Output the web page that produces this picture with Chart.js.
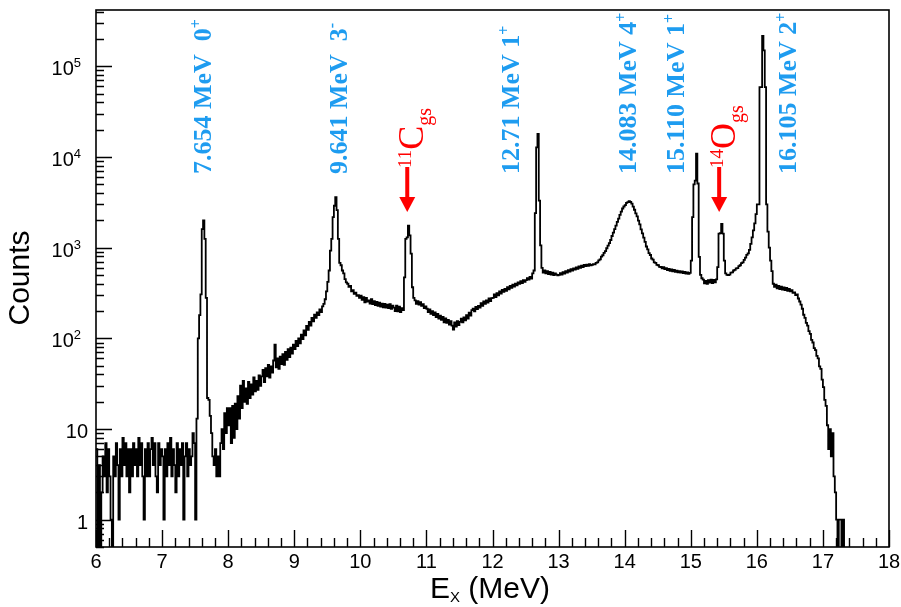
<!DOCTYPE html>
<html>
<head>
<meta charset="utf-8">
<title>Ex spectrum</title>
<script src="https://cdn.jsdelivr.net/npm/chart.js@4.4.1/dist/chart.umd.min.js"></script>
<style>
  html, body { margin: 0; padding: 0; background: #fff; }
  #wrap { width: 901px; height: 607px; }
</style>
</head>
<body>
<div id="wrap"><canvas id="spectrum" width="901" height="607"></canvas></div>
<script>
/* ================= DATA ================= */

// histogram: bin low edges start at binStart, width binWidth (MeV)
const binStart = 6.0;
const binWidth = 0.02;

// counts per bin, 25 bins (0.5 MeV) per line
const counts = [
  6,0,4,0,2,5,3,7,2,6,3,1,0,5,3,7,4,1,6,3,8,4,7,3,6,                                   // 6.00
  2,6,3,7,4,6,3,8,4,7,3,1,6,3,7,3,6,8,4,7,3,2,7,4,6,                                   // 6.50
  5,1,6,3,7,4,8,3,6,4,2,7,3,6,4,7,1,5,7,3,6,4,5,9,7,                                   // 7.00
  1,13,100,180,305,1600,2000,1250,280,22,21,14,9,5,4,6,3,5,3,7,10,6,15,9,17,           // 7.50
  11,17,7,18,8,19,10,23,13,30,17,34,20,28,19,33,22,31,24,37,26,34,27,39,30,            // 8.00
  38,45,33,47,38,51,37,49,42,57,85,48,60,46,63,52,67,51,71,58,76,62,79,68,85,          // 8.50
  76,94,82,100,88,110,98,122,108,137,124,152,138,168,154,182,168,193,180,208,195,225,240,270,330, // 9.00
  420,560,930,1250,2170,2900,3600,2600,1250,680,640,560,520,450,415,400,370,380,330,340,310,320,295,300,280, // 9.50
  295,265,285,250,280,255,262,242,270,238,258,232,252,228,248,224,242,220,240,218,236,215,238,212,230, // 10.00
  218,200,230,198,224,195,215,205,470,1250,1300,1750,1370,860,366,280,262,240,258,235,250,228,238,215,225, // 10.50
  212,195,208,186,200,180,193,172,186,165,178,160,172,150,166,148,160,142,155,138,125,150,135,155,140, // 11.00
  152,165,150,170,158,180,165,192,178,205,212,198,222,210,228,218,245,228,255,240,262,248,275,258,278, // 11.50
  280,305,285,315,298,330,312,342,325,352,335,368,348,378,360,392,372,402,385,415,398,428,408,438,420, // 12.00
  438,462,445,475,455,520,560,2400,12800,18000,3300,1060,600,530,560,520,550,512,540,505,530,498,522,505,495, // 12.50
  500,525,505,538,518,550,530,565,545,580,560,592,572,605,585,620,598,632,610,645,625,650,630,658,638, // 13.00
  645,660,655,680,688,725,742,795,825,875,915,985,1055,1125,1215,1345,1465,1605,1755,1925,2095,2305,2495,2705,2845, // 13.50
  2950,3120,3180,3260,3190,3060,2840,2620,2390,2210,1990,1810,1590,1440,1290,1160,1030,960,870,830,760,740,690,680,645, // 14.00
  640,615,612,592,608,580,596,565,584,556,576,548,568,540,558,534,552,530,548,524,542,518,535,515,528, // 14.50
  720,2170,5000,5500,10900,5100,790,500,460,445,405,430,400,438,412,445,408,440,415,448,610,1430,1450,1830,1430, // 15.00
  720,520,500,498,505,530,535,560,570,590,595,625,640,675,690,735,775,835,865,945,1100,1300,1550,1850,2350, // 15.50
  3000,3000,59000,59000,216000,150000,59000,3000,1500,1000,720,550,400,370,390,355,380,350,372,345,365,340,360,335,350, // 16.00
  330,340,318,322,300,305,275,255,235,212,182,168,148,138,120,112,96,90,78,74,64,60,49,46,35, // 16.50
  29,21,18,11,6,10,5,9,3,2,1,0,1,1,0,1,0,0,0,0                                           // 17.00
];

const xTickLabels = ["6","7","8","9","10","11","12","13","14","15","16","17","18"];
const yTickValues = [1, 10, 100, 1000, 10000, 100000];
const yTickBase = ["1", "10", "10", "10", "10", "10"];
const yTickExp = ["", "", "2", "3", "4", "5"];

const levelText = ["7.654 MeV  0", "9.641 MeV  3", "12.71 MeV 1", "14.083 MeV 4", "15.110 MeV 1", "16.105 MeV 2"];
const levelParity = ["+", "-", "+", "+", "+", "+"];
const levelLabelE = [7.61, 9.655, 12.265, 14.03, 14.76, 16.46];

const contamMass = ["11", "14"];
const contamSymbol = ["C", "O"];
const contamE = [10.71, 15.43];

/* ================= STYLE ================= */

const BLUE = "#1e9cf0";
const RED = "#ff0000";
const SANS = "'Liberation Sans', Arial, sans-serif";
const SERIF = "'Liberation Serif', 'Times New Roman', serif";

/* ================= HELPERS ================= */

// draw text pieces along a line rotated -90deg, starting at (x, y) on screen
function drawRotated(ctx, x, y, parts, color) {
    ctx.save();
    ctx.translate(x, y);
    ctx.rotate(-Math.PI / 2);
    ctx.fillStyle = color;
    ctx.textBaseline = "alphabetic";
    ctx.textAlign = "left";
    let cx = 0;
    parts.forEach(p => {
        ctx.font = p.font;
        ctx.fillText(p.text, cx, p.dy || 0);
        cx += ctx.measureText(p.text).width;
    });
    ctx.restore();
}

/* ================= PLUGIN ================= */

const frameAndLabels = {
    id: "frameAndLabels",
    afterDatasetsDraw(chart) {
        const ctx = chart.ctx;
        const area = chart.chartArea;
        const xs = chart.scales.x;
        const ys = chart.scales.y;

        ctx.save();
        ctx.strokeStyle = "#000";
        ctx.lineWidth = 1.6;
        ctx.strokeRect(area.left, area.top, area.right - area.left, area.bottom - area.top);

        // x ticks, inward from the bottom
        ctx.lineWidth = 1.4;
        ctx.beginPath();
        const nx = Math.round((xs.max - xs.min) / 0.2);
        for (let k = 0; k <= nx; k++) {
            const px = Math.round(xs.getPixelForValue(xs.min + k * 0.2)) + 0.5;
            const len = k % 5 === 0 ? 17 : 9;
            ctx.moveTo(px, area.bottom);
            ctx.lineTo(px, area.bottom - len);
        }
        // y ticks, inward from the left
        for (let d = -1; d <= 5; d++) {
            for (let m = 1; m <= 9; m++) {
                const v = m * Math.pow(10, d);
                if (v < ys.min || v > ys.max) continue;
                const py = Math.round(ys.getPixelForValue(v)) + 0.5;
                ctx.moveTo(area.left, py);
                ctx.lineTo(area.left + (m === 1 ? 16 : 8), py);
            }
        }
        ctx.stroke();

        // x tick labels
        ctx.fillStyle = "#000";
        ctx.font = "20px " + SANS;
        ctx.textAlign = "center";
        ctx.textBaseline = "alphabetic";
        xTickLabels.forEach(t => {
            ctx.fillText(t, xs.getPixelForValue(Number(t)), area.bottom + 21);
        });

        // y tick labels, powers of ten
        yTickValues.forEach((v, i) => {
            const py = ys.getPixelForValue(v);
            if (!yTickExp[i]) {
                ctx.font = "20px " + SANS;
                ctx.textAlign = "right";
                ctx.fillText(yTickBase[i], 88, py + 9);
            } else {
                ctx.font = "13px " + SANS;
                const ew = ctx.measureText(yTickExp[i]).width;
                ctx.font = "20px " + SANS;
                const bw = ctx.measureText(yTickBase[i]).width;
                const x0 = 81 - ew - bw;
                ctx.textAlign = "left";
                ctx.fillText(yTickBase[i], x0, py + 9);
                ctx.font = "13px " + SANS;
                ctx.fillText(yTickExp[i], x0 + bw, py + 1);
            }
        });

        // axis titles
        ctx.font = "30px " + SANS;
        ctx.textAlign = "left";
        let tx = 430;
        ctx.fillText("E", tx, 598);
        tx += ctx.measureText("E").width;
        ctx.font = "15px " + SANS;
        ctx.fillText("X", tx, 602);
        tx += ctx.measureText("X").width;
        ctx.font = "30px " + SANS;
        ctx.fillText(" (MeV)", tx, 598);

        ctx.font = "30px " + SANS;
        const cw = ctx.measureText("Counts").width;
        drawRotated(ctx, 29, 278 + cw / 2, [{ text: "Counts", font: "30px " + SANS }], "#000");

        // level labels (blue)
        levelText.forEach((t, i) => {
            const bx = xs.getPixelForValue(levelLabelE[i]) + 9;
            drawRotated(ctx, bx, 174, [
                { text: t, font: "bold 26px " + SERIF },
                { text: levelParity[i], font: "bold 16px " + SERIF, dy: -10 }
            ], BLUE);
        });

        // contaminant arrows and labels (red)
        contamE.forEach((e, i) => {
            const ax = xs.getPixelForValue(e);
            ctx.fillStyle = RED;
            ctx.fillRect(ax - 2, 167, 4, 31);
            ctx.beginPath();
            ctx.moveTo(ax - 8, 197);
            ctx.lineTo(ax + 8, 197);
            ctx.lineTo(ax, 212);
            ctx.closePath();
            ctx.fill();
            drawRotated(ctx, ax + 16, 168, [
                { text: contamMass[i], font: "19px " + SERIF, dy: -12 },
                { text: contamSymbol[i], font: "36px " + SERIF },
                { text: "gs", font: "20px " + SERIF, dy: 8 }
            ], RED);
        });
        ctx.restore();
    }
};

/* ================= CHART ================= */

// empty bins sit below the log axis range, so the step drops to the frame
const points = counts.map((c, i) => ({ x: binStart + i * binWidth, y: c > 0 ? c : 0.01 }));
points.push({ x: binStart + counts.length * binWidth, y: 0.01 });

new Chart(document.getElementById("spectrum").getContext("2d"), {
    type: "line",
    data: {
        datasets: [{
            data: points,
            stepped: true,
            borderColor: "#000",
            borderWidth: 1.8,
            pointRadius: 0,
            fill: false
        }]
    },
    options: {
        responsive: false,
        animation: false,
        devicePixelRatio: 1,
        layout: { padding: { top: 10, right: 12, left: 0, bottom: 0 } },
        plugins: { legend: { display: false }, tooltip: { enabled: false } },
        scales: {
            x: {
                type: "linear",
                min: 6,
                max: 18,
                grid: { display: false, drawTicks: false },
                border: { display: false },
                ticks: { display: false },
                afterFit: s => { s.height = 60; }
            },
            y: {
                type: "logarithmic",
                min: 0.5,
                max: 4.18e5,
                grid: { display: false, drawTicks: false },
                border: { display: false },
                ticks: { display: false },
                afterFit: s => { s.width = 96; }
            }
        }
    },
    plugins: [frameAndLabels]
});
</script>
</body>
</html>
